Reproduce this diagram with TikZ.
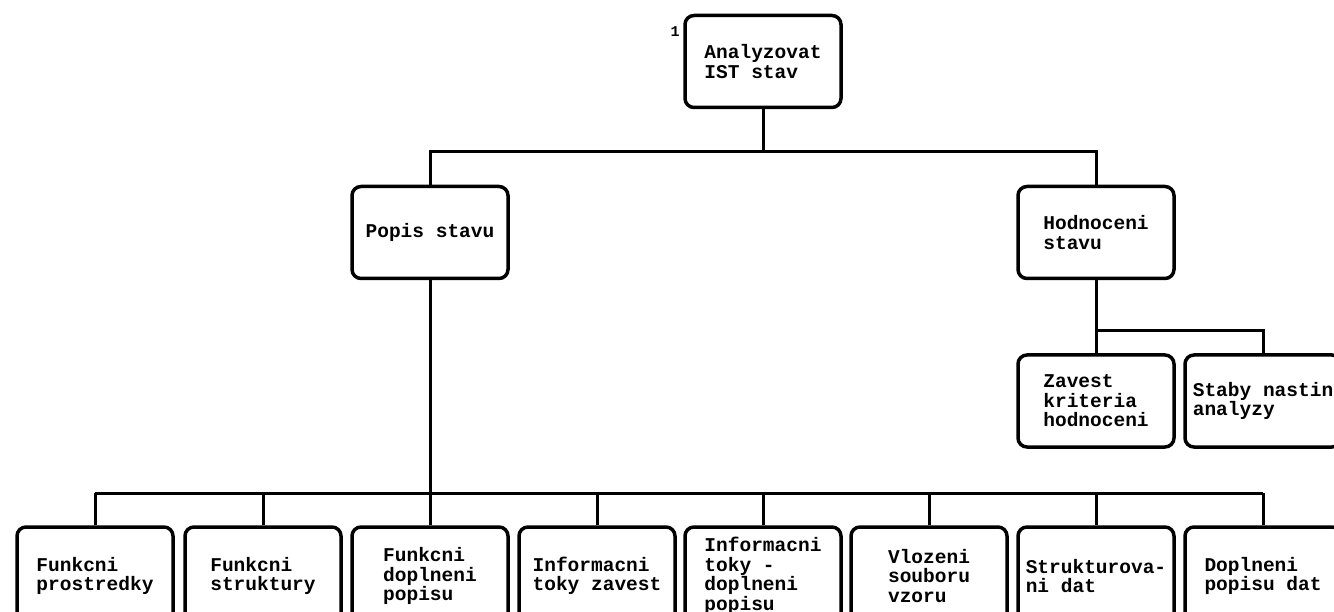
\documentclass[tikz,border=0pt]{standalone}
\usepackage{fontspec}
\setmonofont{Liberation Mono}

\begin{document}
\begin{tikzpicture}[x=1pt,y=-1pt,
    box/.style={draw,line width=3.5pt,rounded corners=9pt,minimum width=156pt,
      minimum height=92pt,inner sep=0pt,align=left,
      font=\ttfamily\bfseries\fontsize{19.5}{19.5}\selectfont},
    low/.style={box,minimum height=98pt},
    link/.style={line width=3pt}]
        \useasboundingbox (0,0) rectangle (1334,612);
        \clip (0,0) rectangle (1334,612);
        % first level
        \node[box] (top) at (763,61.5) {Analyzovat\\IST stav};
        \node[font=\ttfamily\bfseries\fontsize{15}{15}\selectfont] (num) at (675,32) {1};
        \node[box] (popis) at (430,232.5) {Popis stavu};
        \node[box] (hod) at (1096,232.5) {Hodnoceni\\stavu};
        \node[box] (zav) at (1096,401) {Zavest\\kriteria\\hodnoceni};
        \node[box] (stab) at (1263,401) {Staby nastin\\analyzy};
        % bottom row
        \node[low] (f1) at (95,576) {Funkcni\\prostredky};
        \node[low] (f2) at (263,576) {Funkcni\\struktury};
        \node[low] (f3) at (430,576) {Funkcni\\doplneni\\popisu};
        \node[low] (f4) at (597,576) {Informacni\\toky zavest};
        \node[low] (f5) at (763,576) {Informacni\\toky -\\doplneni\\popisu};
        \node[low] (f6) at (929,576) {Vlozeni\\souboru\\vzoru};
        \node[low] (f7) at (1096,576) {Strukturova-\\ni dat};
        \node[low] (f8) at (1263,576) {Doplneni\\popisu dat};
        % connectors
        \draw[link] (top.south) -- ++(0,42) -| (popis.north);
        \draw[link] (top.south) ++(0,42) -| (hod.north);
        \draw[link] (hod.south) -- ++(0,50) -| (stab.north);
        \draw[link] (hod.south) ++(0,50) -| (zav.north);
        \draw[link] (popis.south) -- ++(0,213) coordinate (bus);
        \draw[link] (bus -| f1.north) -- (bus -| f8.north);
        \foreach \n in {f1,f2,f3,f4,f5,f6,f7,f8}
          \draw[link] (bus -| \n.north) -- (\n.north);
      \end{tikzpicture}
\end{document}
